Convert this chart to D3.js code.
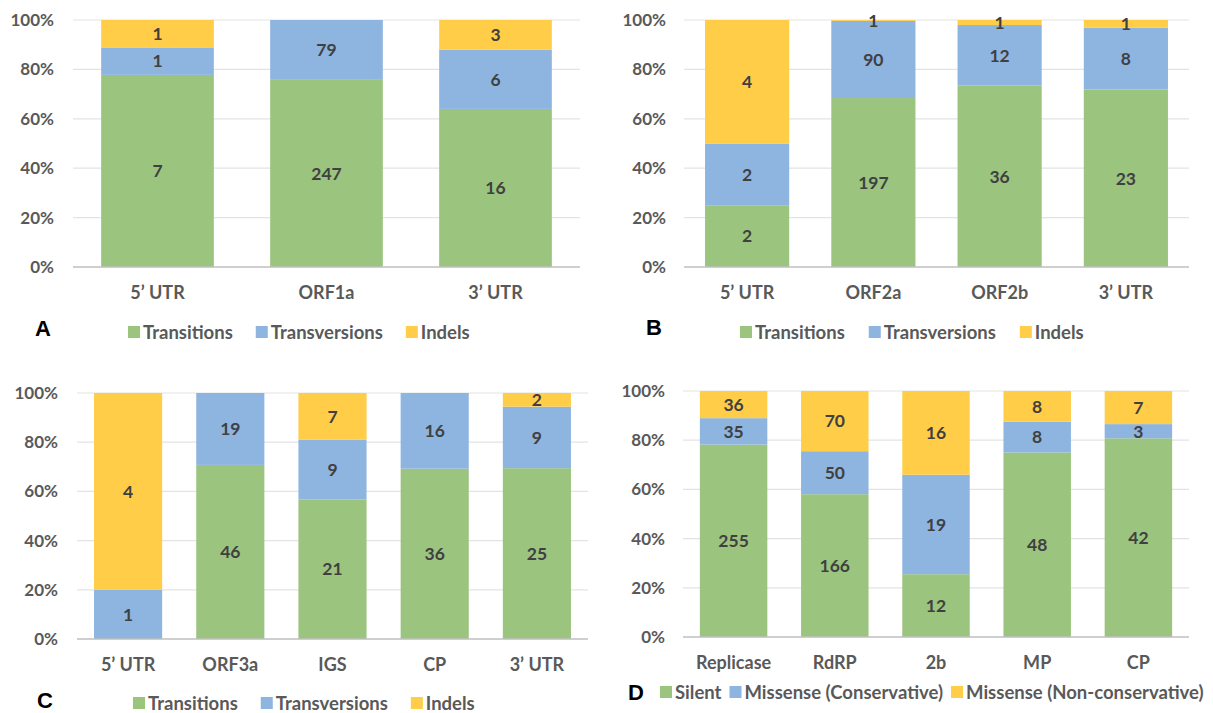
<!DOCTYPE html>
<html><head><meta charset="utf-8">
<script src="https://cdn.jsdelivr.net/npm/d3@7"></script>
<style>
body{margin:0;background:#fff;}
svg{display:block;font-family:Lato,"Open Sans",sans-serif;}
</style></head>
<body><svg id="chart" width="1213" height="713"></svg>
<script>
// ---- data ----
const catsA = ["5\u2019 UTR", "ORF1a", "3\u2019 UTR"];
const transitionsA = [7, 247, 16];
const transversionsA = [1, 79, 6];
const indelsA = [1, 0, 3];

const catsB = ["5\u2019 UTR", "ORF2a", "ORF2b", "3\u2019 UTR"];
const transitionsB = [2, 197, 36, 23];
const transversionsB = [2, 90, 12, 8];
const indelsB = [4, 1, 1, 1];

const catsC = ["5\u2019 UTR", "ORF3a", "IGS", "CP", "3\u2019 UTR"];
const transitionsC = [0, 46, 21, 36, 25];
const transversionsC = [1, 19, 9, 16, 9];
const indelsC = [4, 0, 7, 0, 2];

const catsD = ["Replicase", "RdRP", "2b", "MP", "CP"];
const silentD = [255, 166, 12, 48, 42];
const consD = [35, 50, 19, 8, 3];
const nonconsD = [36, 70, 16, 8, 7];

const seriesNamesABC = ["Transitions", "Transversions", "Indels"];
const seriesNamesD = ["Silent", "Missense (Conservative)", "Missense (Non-conservative)"];
const yTicks = [0, 0.2, 0.4, 0.6, 0.8, 1.0];
const colors = ["#9bc47f", "#8db5e0", "#ffcd48"];

const svg = d3.select("#chart");

function drawPanel(cfg) {
  const keys = ["s0", "s1", "s2"];
  const rows = cfg.cats.map((c, i) => ({cat: c, s0: cfg.vals[0][i], s1: cfg.vals[1][i], s2: cfg.vals[2][i]}));
  const stacked = d3.stack().keys(keys).offset(d3.stackOffsetExpand)(rows);

  const x = d3.scaleBand().domain(cfg.cats).range([cfg.left, cfg.right]).paddingInner(1/3).paddingOuter(1/6);
  const y = d3.scaleLinear().domain([0, 1]).range([cfg.bottom, cfg.top]);

  const g = svg.append("g");

  // gridlines
  g.selectAll(".grid").data(yTicks.filter(t => t > 0)).join("line")
    .attr("x1", cfg.left).attr("x2", cfg.right)
    .attr("y1", d => y(d)).attr("y2", d => y(d))
    .attr("stroke", "#e3e3e3").attr("stroke-width", 1.2);

  // y tick labels via axis
  const yAxis = d3.axisLeft(y).tickValues(yTicks).tickFormat(d3.format(".0%")).tickSize(0).tickPadding(0);
  const ya = g.append("g").attr("transform", `translate(${cfg.tickRight},0)`).call(yAxis);
  ya.select(".domain").remove();
  ya.selectAll("text").attr("fill", "#595959").attr("font-size", 17).attr("font-weight", "bold")
    .attr("font-family", "Lato, sans-serif");

  // bars
  stacked.forEach((layer, li) => {
    g.selectAll(null).data(layer).join("rect")
      .attr("x", d => x(d.data.cat))
      .attr("width", x.bandwidth())
      .attr("y", d => y(d[1]))
      .attr("height", d => Math.max(0, y(d[0]) - y(d[1])))
      .attr("fill", colors[li]);
  });

  // baseline
  g.append("line").attr("x1", cfg.left).attr("x2", cfg.right)
    .attr("y1", y(0)).attr("y2", y(0)).attr("stroke", "#bfbfbf").attr("stroke-width", 1.5);

  // data labels
  stacked.forEach((layer, li) => {
    g.selectAll(null).data(layer.filter(d => d.data[keys[li]] > 0)).join("text")
      .attr("x", d => x(d.data.cat) + x.bandwidth() / 2)
      .attr("y", d => y((d[0] + d[1]) / 2))
      .attr("dy", "0.36em")
      .attr("text-anchor", "middle")
      .attr("font-size", 17.5).attr("font-weight", "bold").attr("fill", "#404040")
      .text(d => d.data[keys[li]]);
  });

  // x category labels
  const xAxis = d3.axisBottom(x).tickSize(0).tickPadding(0);
  const xa = g.append("g").attr("transform", `translate(0,${cfg.catY})`).call(xAxis);
  xa.select(".domain").remove();
  xa.selectAll("text").attr("fill", "#595959").attr("font-size", 18).attr("font-weight", "bold")
    .attr("font-family", "Lato, sans-serif").attr("dy", "0.36em");

  // panel letter
  g.append("text").attr("x", cfg.letterX).attr("y", cfg.letterY).attr("dy", "0.36em")
    .attr("font-size", 22).attr("font-weight", "bold").attr("fill", "#000")
    .attr("font-family", "Arial, Liberation Sans, sans-serif").text(cfg.letter);

  // legend
  let lx = cfg.legendX;
  cfg.names.forEach((n, i) => {
    g.append("rect").attr("x", lx).attr("y", cfg.legendY - 6).attr("width", 12).attr("height", 12).attr("fill", colors[i]);
    const t = g.append("text").attr("x", lx + 15).attr("y", cfg.legendY).attr("dy", "0.36em")
      .attr("font-size", cfg.legendFont).attr("font-weight", "bold").attr("fill", "#595959").text(n);
    lx += 15 + t.node().getComputedTextLength() + cfg.legendGap;
  });
}

drawPanel({cats: catsA, vals: [transitionsA, transversionsA, indelsA], names: seriesNamesABC,
  left: 73, right: 580, top: 20, bottom: 267, tickRight: 54, catY: 293,
  legendX: 128, legendY: 332, legendGap: 23, legendFont: 18.5, letter: "A", letterX: 35, letterY: 328});
drawPanel({cats: catsB, vals: [transitionsB, transversionsB, indelsB], names: seriesNamesABC,
  left: 684, right: 1189, top: 20, bottom: 267, tickRight: 666, catY: 293,
  legendX: 740, legendY: 332, legendGap: 24, legendFont: 18.5, letter: "B", letterX: 646, letterY: 327});
drawPanel({cats: catsC, vals: [transitionsC, transversionsC, indelsC], names: seriesNamesABC,
  left: 77, right: 588, top: 393, bottom: 639, tickRight: 58, catY: 665,
  legendX: 133, legendY: 703, legendGap: 23, legendFont: 18.5, letter: "C", letterX: 37, letterY: 700});
drawPanel({cats: catsD, vals: [silentD, consD, nonconsD], names: seriesNamesD,
  left: 683, right: 1189, top: 391, bottom: 637, tickRight: 665, catY: 663,
  legendX: 660, legendY: 692, legendGap: 8, legendFont: 18.5, letter: "D", letterX: 628, letterY: 692});
</script>
</body></html>
